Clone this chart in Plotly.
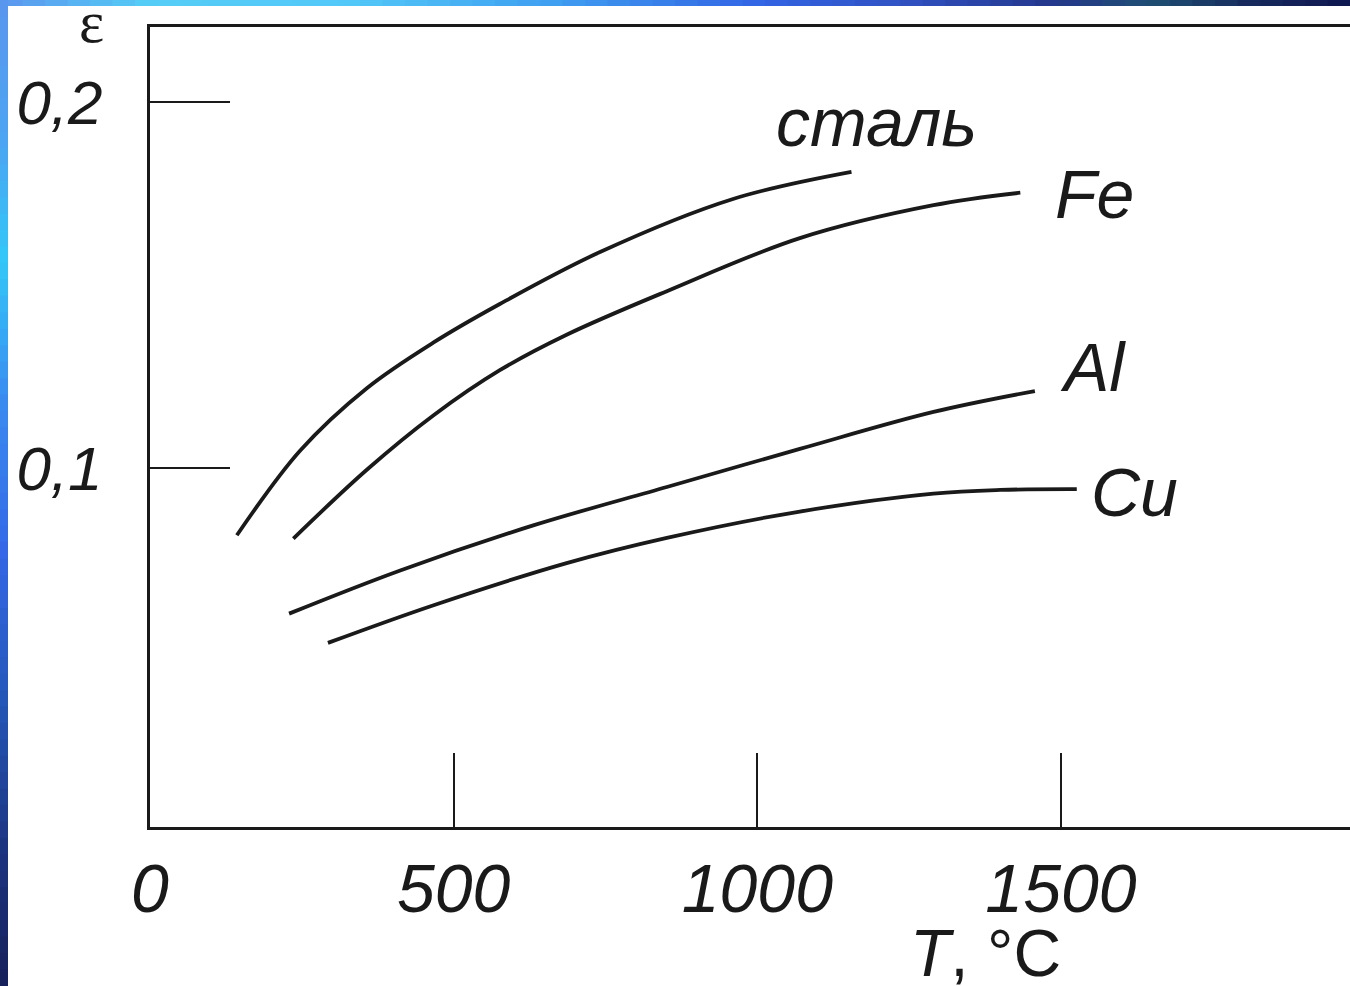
import plotly.graph_objects as go

# ---------------- data ----------------
T_steel = [143, 247, 357, 467, 576, 741, 960, 1155]
eps_steel = [0.0816, 0.1047, 0.1218, 0.1343, 0.1448, 0.1590, 0.1735, 0.1809]

T_fe = [236, 357, 467, 576, 686, 851, 1070, 1290, 1433]
eps_fe = [0.0807, 0.0995, 0.1144, 0.1267, 0.1364, 0.1483, 0.1628, 0.1718, 0.1752]

T_al = [229, 412, 631, 851, 1070, 1290, 1457]
eps_al = [0.0602, 0.0720, 0.0843, 0.0948, 0.1052, 0.1153, 0.1210]

T_cu = [293, 467, 686, 851, 1070, 1290, 1400, 1526]
eps_cu = [0.0522, 0.0625, 0.0740, 0.0809, 0.0881, 0.0930, 0.0940, 0.0942]

series_names = ["сталь", "Fe", "Al", "Cu"]

x_tick_vals = [0, 500, 1000, 1500]
x_tick_text = ["0", "500", "1000", "1500"]
y_tick_vals = [0.1, 0.2]
y_tick_text = ["0,1", "0,2"]

x_title = "<i>T</i>, °C"
y_title = "ε"

# ---------------- layout geometry ----------------
W, H = 1350, 986
ML, MR, MT, MB = 150, 0, 27, 159
PW, PH = W - ML - MR, H - MT - MB


def px2paper(px, py):
    return (px - ML) / PW, (H - MB - py) / PH


INK = "#1a1a1a"
SANS = "Liberation Sans, Arial, sans-serif"
SERIF = "Liberation Serif, Times New Roman, serif"

fig = go.Figure()
for tx, ey, nm in zip([T_steel, T_fe, T_al, T_cu], [eps_steel, eps_fe, eps_al, eps_cu], series_names):
    fig.add_trace(go.Scatter(x=tx, y=ey, mode="lines", name=nm,
                             line=dict(color=INK, width=3.8, shape="spline", smoothing=1.0),
                             hoverinfo="skip", showlegend=False))

# ---------------- decorative slide border (blue gradient strips) ----------------
def hex2rgb(h):
    h = h.lstrip("#")
    return tuple(int(h[i:i + 2], 16) for i in (0, 2, 4))


def interp(stops, pos):
    for (p0, c0), (p1, c1) in zip(stops[:-1], stops[1:]):
        if p0 <= pos <= p1:
            t = 0 if p1 == p0 else (pos - p0) / (p1 - p0)
            a, b = hex2rgb(c0), hex2rgb(c1)
            return "rgb(%d,%d,%d)" % tuple(round(a[i] + (b[i] - a[i]) * t) for i in range(3))
    return stops[-1][1]


top_stops = [(0, "#5a96ee"), (150, "#55cdf6"), (350, "#52c8f8"), (550, "#3f9ff0"),
             (750, "#3366e6"), (900, "#3152c4"), (1050, "#24378c"), (1150, "#1f4e72"),
             (1250, "#172a5e"), (1350, "#0f1650")]
left_stops = [(0, "#5a96ee"), (150, "#4aa6f2"), (260, "#32c8f8"), (400, "#3a8cf0"),
              (550, "#3468e6"), (700, "#2458b8"), (850, "#1c3480"), (986, "#17205a")]

shapes = []
N = 60
STRIP_T, STRIP_L = 6, 8
for i in range(N):
    x0, x1 = W * i / N, W * (i + 1) / N
    a0, b0 = px2paper(x0, STRIP_T)
    a1, b1 = px2paper(x1 + 1, 0)
    shapes.append(dict(type="rect", xref="paper", yref="paper", x0=a0, x1=a1, y0=b0, y1=b1,
                       fillcolor=interp(top_stops, (x0 + x1) / 2), line=dict(width=0), layer="above"))
for i in range(N):
    y0, y1 = H * i / N, H * (i + 1) / N
    a0, b0 = px2paper(0, y1 + 1)
    a1, b1 = px2paper(STRIP_L, y0)
    shapes.append(dict(type="rect", xref="paper", yref="paper", x0=a0, x1=a1, y0=b0, y1=b1,
                       fillcolor=interp(left_stops, (y0 + y1) / 2), line=dict(width=0), layer="above"))

# ---------------- text labels ----------------
annots = []


def add_text(text, px, py, size=68, family=SANS, italic=True, xanchor="left"):
    ax, ay = px2paper(px, py)
    annots.append(dict(text=text, x=ax, y=ay, xref="paper", yref="paper", showarrow=False,
                       xanchor=xanchor, yanchor="middle",
                       font=dict(family=family, size=size, color=INK,
                                 style="italic" if italic else "normal")))


label_pos = {"сталь": (774, 122), "Fe": (1053, 194), "Al": (1058, 367), "Cu": (1089, 492)}
for nm in series_names:
    add_text(nm, *label_pos[nm])
add_text(x_title, 908, 953, size=66, italic=False)
add_text(y_title, 91, 22, size=60, family=SERIF, italic=False, xanchor="center")

fig.update_layout(
    width=W, height=H,
    margin=dict(l=ML, r=MR, t=MT, b=MB, pad=0),
    paper_bgcolor="white", plot_bgcolor="white",
    shapes=shapes, annotations=annots,
    xaxis=dict(range=[0, PW * 1500 / 911], showgrid=False, zeroline=False,
               showline=True, linecolor=INK, linewidth=3, mirror=True,
               ticks="inside", ticklen=74, tickwidth=2, tickcolor=INK,
               tickvals=x_tick_vals, ticktext=x_tick_text,
               tickfont=dict(family=SANS, size=68, color=INK, style="italic"),
               ticklabelstandoff=0),
    yaxis=dict(range=[0.0019, 0.0019 + PH / 3660], showgrid=False, zeroline=False,
               showline=True, linecolor=INK, linewidth=3, mirror=False,
               ticks="inside", ticklen=80, tickwidth=2, tickcolor=INK,
               tickvals=y_tick_vals, ticktext=y_tick_text,
               tickfont=dict(family=SANS, size=62, color=INK, style="italic"),
               ticklabelstandoff=32),
)

fig.write_html("out.html", config={"displayModeBar": False, "staticPlot": True},
               post_script="document.body.style.margin='0';document.body.style.overflow='hidden';")
